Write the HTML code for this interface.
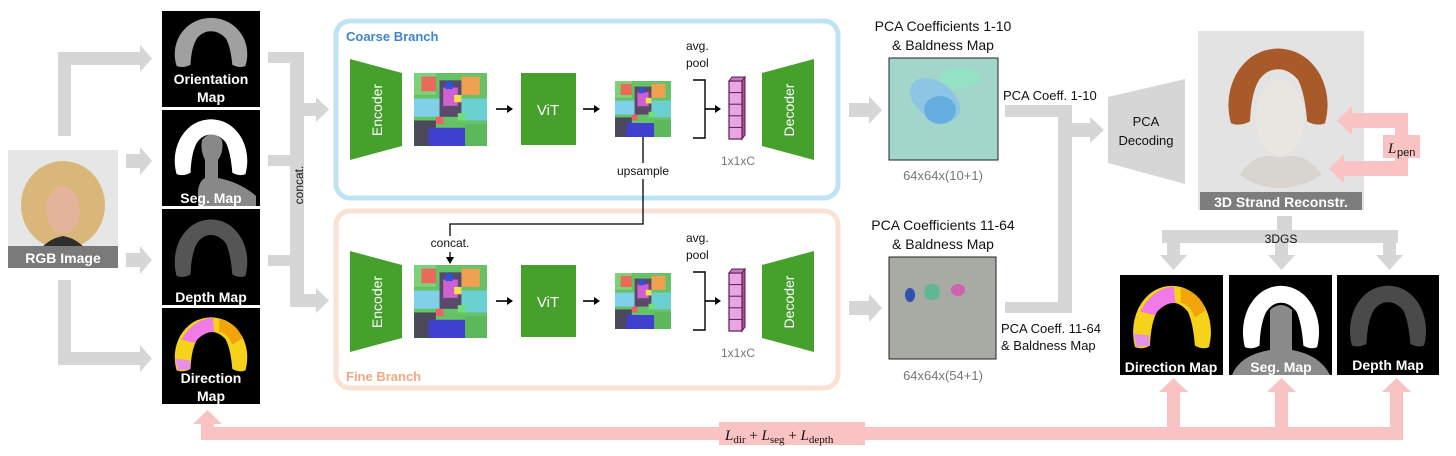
<!DOCTYPE html>
<html><head><meta charset="utf-8"><style>
html,body{margin:0;padding:0;background:#fff;}
svg{display:block;}
text{font-family:"Liberation Sans",Arial,sans-serif;}
.m{font-family:"Liberation Serif",serif;font-style:italic;}
</style></head><body>
<svg width="1456" height="456" viewBox="0 0 1456 456" xmlns="http://www.w3.org/2000/svg">
<defs>
<symbol id="mos" viewBox="0 0 10 10" preserveAspectRatio="none">
<rect width="10" height="10" fill="#66c266"/>
<rect x="0" y="0" width="3" height="3" fill="#7fd07a"/>
<rect x="1" y="0.5" width="2" height="2" fill="#e86b5a"/>
<rect x="6.5" y="0.5" width="2.5" height="2.5" fill="#f0a050"/>
<rect x="0" y="3.5" width="3.5" height="2.5" fill="#7fd0e8"/>
<rect x="6.5" y="3.5" width="3.5" height="3" fill="#6ad0d0"/>
<rect x="3.5" y="1" width="3" height="5" fill="#5a4a6a"/>
<rect x="4" y="2" width="2" height="2.5" fill="#d060d0"/>
<rect x="4.3" y="1.2" width="1" height="1" fill="#3050e0"/>
<rect x="5.5" y="3" width="1" height="1" fill="#f0e050"/>
<rect x="0" y="6.5" width="3" height="3.5" fill="#4a4a5a"/>
<rect x="2" y="7.5" width="5" height="2.5" fill="#4040d0"/>
<rect x="7" y="7" width="3" height="3" fill="#5cb85c"/>
<rect x="3" y="6" width="1" height="1" fill="#f06060"/>
<rect x="6" y="5.5" width="1" height="1" fill="#70e070"/>
</symbol>
<symbol id="bob" viewBox="0 0 100 100" preserveAspectRatio="none">
<path d="M8 88 Q2 60 12 35 Q25 6 50 5 Q75 6 88 35 Q98 60 92 88 Q85 92 76 86 Q74 55 68 40 Q60 28 50 28 Q40 28 33 40 Q26 55 25 86 Q16 92 8 88 Z"/>
</symbol>
<symbol id="hairdir" viewBox="0 0 100 100" preserveAspectRatio="none">
<path d="M8 88 Q2 60 12 35 Q25 6 50 5 Q75 6 88 35 Q98 60 92 88 Q85 92 76 86 Q74 55 68 40 Q60 28 50 28 Q40 28 33 40 Q26 55 25 86 Q16 92 8 88 Z" fill="#f6d21a"/>
<path d="M14 40 Q28 8 52 6 L54 28 Q40 28 30 45 Z" fill="#f07ae8"/>
<path d="M60 8 Q82 14 88 38 L76 48 Q70 30 60 28 Z" fill="#f3a40a"/>
<path d="M6 70 L24 72 L25 86 L10 88 Z" fill="#e890e8"/>
</symbol>
</defs>

<!-- Left gray arrows -->
<g fill="#d6d6d6">
<rect x="58" y="52" width="13" height="84"/>
<rect x="58" y="52" width="84" height="13"/>
<polygon points="140,45 152,58.5 140,72"/>
<rect x="126" y="154" width="16" height="14"/>
<polygon points="140,147 152,161 140,175"/>
<rect x="126" y="253" width="16" height="14"/>
<polygon points="140,246 152,260 140,274"/>
<rect x="58" y="280" width="13" height="85"/>
<rect x="58" y="352" width="84" height="13"/>
<polygon points="140,345 152,358.5 140,372"/>
<rect x="268" y="52" width="36" height="11"/>
<rect x="268" y="155" width="36" height="11"/>
<rect x="268" y="255" width="36" height="11"/>
<rect x="290" y="52" width="14" height="255"/>
<rect x="304" y="103" width="14" height="13"/>
<polygon points="316,97 329,109.5 316,122"/>
<rect x="304" y="294" width="14" height="13"/>
<polygon points="316,288 329,300.5 316,313"/>
</g>
<text transform="translate(303,185) rotate(-90)" font-size="12" text-anchor="middle" fill="#111">concat.</text>

<!-- RGB image -->
<rect x="8" y="150" width="110" height="118" fill="#e6e6e6"/>
<ellipse cx="63" cy="205" rx="42" ry="44" fill="#d9b77a"/>
<ellipse cx="63" cy="210" rx="17" ry="24" fill="#e3b49a"/>
<path d="M30 268 Q40 240 63 236 Q86 240 96 268 Z" fill="#2e2e2e"/>
<rect x="8" y="246" width="110" height="22" fill="#7a7a7a"/>
<text x="63" y="263" font-size="14" font-weight="bold" fill="#fff" text-anchor="middle">RGB Image</text>

<!-- maps column -->
<rect x="162" y="11" width="98" height="96" fill="#000"/>
<use href="#bob" x="170" y="15" width="82" height="58" fill="#a0a0a0"/>
<text x="211" y="84" font-size="14" font-weight="bold" fill="#fff" text-anchor="middle">Orientation</text>
<text x="211" y="102" font-size="14" font-weight="bold" fill="#fff" text-anchor="middle">Map</text>

<rect x="162" y="110" width="98" height="96" fill="#000"/>
<path d="M198 206 L198 190 Q200 180 205 178 L205 160 Q200 150 202 140 Q212 128 222 140 Q224 152 218 160 L218 178 Q240 182 256 196 L256 206 Z" fill="#888"/>
<use href="#bob" x="170" y="116" width="82" height="66" fill="#fff"/>
<text x="211" y="203" font-size="14" font-weight="bold" fill="#fff" text-anchor="middle">Seg. Map</text>

<rect x="162" y="209" width="98" height="96" fill="#000"/>
<use href="#bob" x="170" y="216" width="82" height="68" fill="#555"/>
<text x="211" y="302" font-size="14" font-weight="bold" fill="#fff" text-anchor="middle">Depth Map</text>

<rect x="162" y="308" width="98" height="96" fill="#000"/>
<use href="#hairdir" x="170" y="314" width="82" height="64"/>
<text x="211" y="383" font-size="14" font-weight="bold" fill="#fff" text-anchor="middle">Direction</text>
<text x="211" y="401" font-size="14" font-weight="bold" fill="#fff" text-anchor="middle">Map</text>

<!-- branch boxes -->
<rect x="336" y="21" width="502" height="177" rx="14" fill="none" stroke="#bfe3f3" stroke-width="5"/>
<text x="346" y="41" font-size="13" font-weight="bold" fill="#3d86cf">Coarse Branch</text>
<rect x="336" y="211" width="502" height="177" rx="14" fill="none" stroke="#fbe1d4" stroke-width="5"/>
<text x="346" y="381" font-size="13" font-weight="bold" fill="#f2a982">Fine Branch</text>

<g id="branch">
<polygon points="350,59 402,73 402,146 350,160" fill="#46a02c"/>
<text transform="translate(382,110) rotate(-90)" font-size="14" fill="#fff" text-anchor="middle">Encoder</text>
<use href="#mos" x="414" y="73" width="73" height="73"/>
<line x1="496" y1="109" x2="508" y2="109" stroke="#000" stroke-width="1.6"/>
<polygon points="507,105 513,109 507,113" fill="#000"/>
<rect x="521" y="73" width="55" height="72" fill="#46a02c"/>
<text x="548" y="115" font-size="15" fill="#fff" text-anchor="middle">ViT</text>
<line x1="583" y1="109" x2="595" y2="109" stroke="#000" stroke-width="1.6"/>
<polygon points="594,105 600,109 594,113" fill="#000"/>
<use href="#mos" x="615" y="81" width="56" height="56"/>
<polyline points="693,80 705,80 705,138 693,138" fill="none" stroke="#000" stroke-width="1.4"/>
<line x1="705" y1="109" x2="716" y2="109" stroke="#000" stroke-width="1.6"/>
<polygon points="715,105 721,109 715,113" fill="#000"/>
<rect x="729" y="81" width="13" height="58" fill="#e9a6e4" stroke="#5a1a50" stroke-width="1.2"/>
<polygon points="729,81 732,77 745,77 742,81" fill="#c27bc0" stroke="#5a1a50" stroke-width="1"/>
<polygon points="742,81 745,77 745,135 742,139" fill="#a8509f" stroke="#5a1a50" stroke-width="1"/>
<line x1="729" y1="92.6" x2="742" y2="92.6" stroke="#5a1a50"/>
<line x1="729" y1="104.2" x2="742" y2="104.2" stroke="#5a1a50"/>
<line x1="729" y1="115.8" x2="742" y2="115.8" stroke="#5a1a50"/>
<line x1="729" y1="127.4" x2="742" y2="127.4" stroke="#5a1a50"/>
<text x="738" y="165" font-size="12" fill="#777" text-anchor="middle">1x1xC</text>
<text x="686" y="50" font-size="12" fill="#111">avg.</text>
<text x="686" y="67" font-size="12" fill="#111">pool</text>
<polygon points="762,73 814,59 814,160 762,146" fill="#46a02c"/>
<text transform="translate(794,110) rotate(-90)" font-size="14" fill="#fff" text-anchor="middle">Decoder</text>
</g>
<use href="#branch" x="0" y="192"/>

<polyline points="643,137 643,224 450,224 450,258" fill="none" stroke="#000" stroke-width="1.3"/>
<polygon points="446,257 450,264 454,257" fill="#000"/>
<rect x="610" y="163" width="66" height="16" fill="#fff"/>
<text x="643" y="175" font-size="12" fill="#111" text-anchor="middle">upsample</text>
<rect x="424" y="236" width="52" height="16" fill="#fff"/>
<text x="450" y="247" font-size="12" fill="#111" text-anchor="middle">concat.</text>

<!-- PCA maps -->
<g fill="#d6d6d6">
<rect x="849" y="103" width="22" height="14"/>
<polygon points="869,96 882,110 869,124"/>
<rect x="849" y="301" width="22" height="14"/>
<polygon points="869,294 882,308 869,322"/>
</g>
<text x="943" y="31" font-size="14" fill="#111" text-anchor="middle">PCA Coefficients 1-10</text>
<text x="943" y="50" font-size="14" fill="#111" text-anchor="middle">&amp; Baldness Map</text>
<rect x="889" y="58" width="109" height="102" fill="#a3d6cb" stroke="#222" stroke-width="1"/>
<ellipse cx="935" cy="100" rx="28" ry="18" fill="#8cc6e4" transform="rotate(35 935 100)"/>
<ellipse cx="940" cy="110" rx="16" ry="14" fill="#66aee0"/>
<ellipse cx="960" cy="78" rx="20" ry="10" fill="#93e2c4"/>
<text x="943" y="180" font-size="13" fill="#777" text-anchor="middle">64x64x(10+1)</text>

<text x="943" y="230" font-size="14" fill="#111" text-anchor="middle">PCA Coefficients 11-64</text>
<text x="943" y="249" font-size="14" fill="#111" text-anchor="middle">&amp; Baldness Map</text>
<rect x="889" y="257" width="107" height="102" fill="#a8aaa4" stroke="#222" stroke-width="1"/>
<ellipse cx="910" cy="295" rx="5" ry="7" fill="#3050b0"/>
<ellipse cx="932" cy="292" rx="8" ry="8" fill="#60b890"/>
<ellipse cx="958" cy="290" rx="7" ry="6" fill="#d060b0"/>
<text x="943" y="380" font-size="13" fill="#777" text-anchor="middle">64x64x(54+1)</text>

<g fill="#d6d6d6">
<rect x="1005" y="105" width="67" height="12"/>
<rect x="1058" y="105" width="14" height="208"/>
<rect x="1005" y="302" width="67" height="11"/>
<rect x="1072" y="123" width="20" height="14"/>
<polygon points="1090,117 1104,130 1090,143"/>
<polygon points="1108,97 1185,79 1185,184 1108,163"/>
<rect x="1277" y="216" width="15" height="18"/>
<rect x="1162" y="230" width="236" height="13"/>
<rect x="1167" y="243" width="13" height="13"/><polygon points="1160,255 1173.5,270 1187,255"/>
<rect x="1275" y="243" width="13" height="13"/><polygon points="1268,255 1281.5,270 1295,255"/>
<rect x="1383" y="243" width="13" height="13"/><polygon points="1376,255 1389.5,270 1403,255"/>
</g>
<text x="1003" y="100" font-size="13" fill="#111">PCA Coeff. 1-10</text>
<text x="1001" y="333" font-size="13" fill="#111">PCA Coeff. 11-64</text>
<text x="1001" y="350" font-size="13" fill="#111">&amp; Baldness Map</text>
<text x="1146" y="126" font-size="13" fill="#111" text-anchor="middle">PCA</text>
<text x="1146" y="145" font-size="13" fill="#111" text-anchor="middle">Decoding</text>
<text x="1281" y="243" font-size="12" fill="#111" text-anchor="middle">3DGS</text>

<!-- 3D strand image -->
<rect x="1198" y="31" width="166" height="179" fill="#e3e3e3"/>
<path d="M1240 175 Q1255 150 1280 158 Q1305 150 1322 175 Q1300 188 1280 188 Q1258 188 1240 175 Z" fill="#d8d4cf"/>
<use href="#bob" x="1222" y="44" width="112" height="90" fill="#a85a28"/>
<ellipse cx="1280" cy="118" rx="24" ry="38" fill="#e9e6e2"/>
<rect x="1200" y="192" width="162" height="18" fill="#7d7d7d"/>
<text x="1281" y="207" font-size="14" font-weight="bold" fill="#fff" text-anchor="middle">3D Strand Reconstr.</text>

<g fill="#f9c3c3">
<rect x="1350" y="113" width="58" height="15"/>
<polygon points="1352,106 1337,120.5 1352,135"/>
<rect x="1342" y="161" width="66" height="15"/>
<polygon points="1344,154 1329,168.5 1344,183"/>
<rect x="1395" y="113" width="13" height="63"/>
<rect x="1383" y="135" width="37" height="23"/>
</g>
<text x="1388" y="153" font-size="15" class="m" fill="#111">L</text>
<text x="1397" y="156" font-size="11" font-family="Liberation Serif" fill="#111">pen</text>

<!-- bottom maps -->
<rect x="1120" y="275" width="103" height="100" fill="#000"/>
<use href="#hairdir" x="1128" y="282" width="88" height="74"/>
<text x="1171" y="372" font-size="14" font-weight="bold" fill="#fff" text-anchor="middle">Direction Map</text>
<rect x="1229" y="275" width="103" height="100" fill="#000"/>
<path d="M1232 375 Q1240 355 1270 350 L1270 310 Q1281 300 1292 310 L1292 350 Q1320 355 1330 375 Z" fill="#8a8a8a"/>
<use href="#bob" x="1238" y="282" width="86" height="74" fill="#fff"/>
<text x="1281" y="372" font-size="14" font-weight="bold" fill="#fff" text-anchor="middle">Seg. Map</text>
<rect x="1337" y="275" width="102" height="100" fill="#000"/>
<use href="#bob" x="1345" y="282" width="86" height="72" fill="#4a4a4a"/>
<text x="1388" y="370" font-size="14" font-weight="bold" fill="#fff" text-anchor="middle">Depth Map</text>

<g fill="#f9c3c3">
<rect x="201" y="427" width="1202" height="13"/>
<rect x="201" y="422" width="13" height="18"/>
<polygon points="193,424 207.5,410 222,424"/>
<rect x="1167" y="390" width="13" height="50"/><polygon points="1159,392 1173.5,378 1188,392"/>
<rect x="1275" y="390" width="13" height="50"/><polygon points="1267,392 1281.5,378 1296,392"/>
<rect x="1390" y="390" width="13" height="50"/><polygon points="1382,392 1396.5,378 1411,392"/>
<rect x="719" y="422" width="146" height="23"/>
</g>
<text x="725" y="440" font-size="15" fill="#111"><tspan class="m">L</tspan><tspan font-size="11" dy="3" font-family="Liberation Serif">dir</tspan><tspan dy="-3" font-family="Liberation Serif"> + </tspan><tspan class="m">L</tspan><tspan font-size="11" dy="3" font-family="Liberation Serif">seg</tspan><tspan dy="-3" font-family="Liberation Serif"> + </tspan><tspan class="m">L</tspan><tspan font-size="11" dy="3" font-family="Liberation Serif">depth</tspan></text>
</svg>
</body></html>
